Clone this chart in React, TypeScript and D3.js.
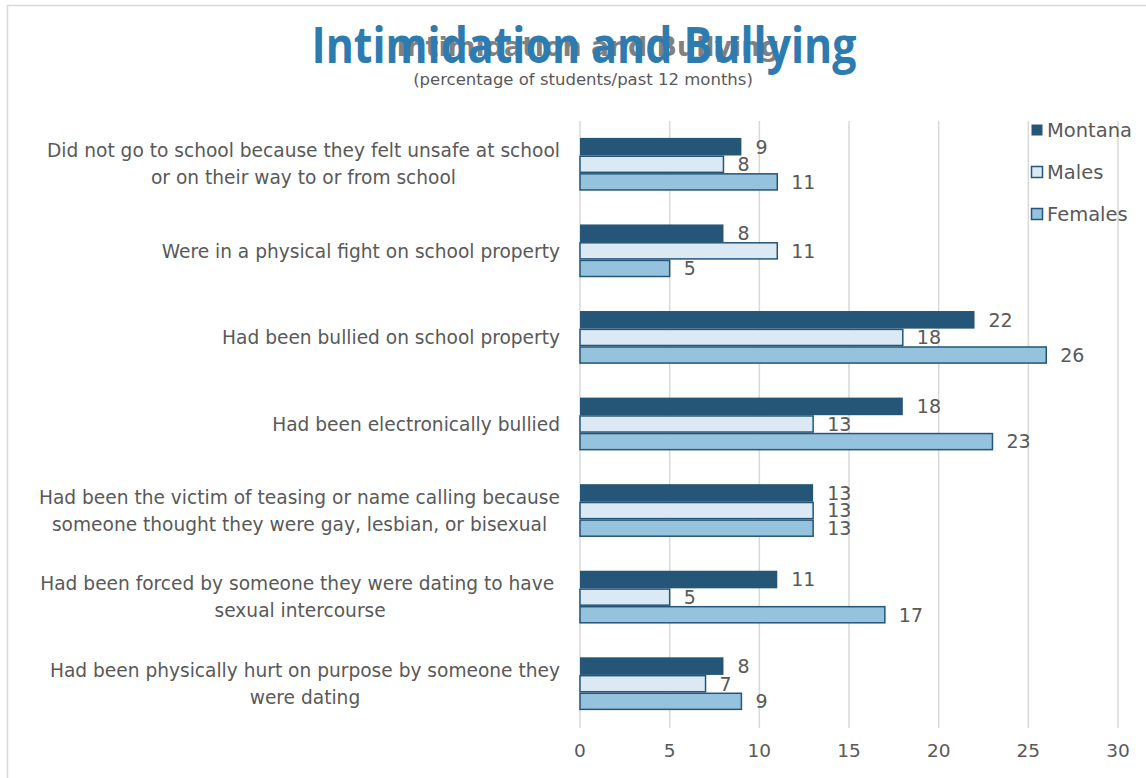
import { useEffect, useRef } from "react";
import * as d3 from "d3";

const categories = [
  "Did not go to school because they felt unsafe at school|or on their way to or from school",
  "Were in a physical fight on school property",
  "Had been bullied on school property",
  "Had been electronically bullied",
  "Had been the victim of teasing or name calling because|someone thought they were gay, lesbian, or bisexual",
  "Had been forced by someone they were dating to have |sexual intercourse",
  "Had been physically hurt on purpose by someone they|were dating",
];
const seriesNames = ["Montana", "Males", "Females"];
const montana = [9, 8, 22, 18, 13, 11, 8];
const males = [8, 11, 18, 13, 13, 5, 7];
const females = [11, 5, 26, 23, 13, 17, 9];
const xTicks = [0, 5, 10, 15, 20, 25, 30];

const FONT = "'Century Gothic', 'DejaVu Sans', sans-serif";
const fills: Record<string, string> = { Montana: "#255577", Males: "#dae9f3", Females: "#95c3de" };
const strokes: Record<string, string> = { Montana: "#255577", Males: "#255577", Females: "#255577" };

export default function App() {
  const svgRef = useRef<SVGSVGElement>(null);

  useEffect(() => {
    if (!svgRef.current) return;
    const svg = d3.select(svgRef.current);
    svg.selectAll("*").remove();

    const values = [montana, males, females];

    const x = d3.scaleLinear().domain([0, 30]).range([580, 1118]);
    const y = d3.scaleBand<string>().domain(categories).range([121, 727]).paddingInner(0.39).paddingOuter(0.195);
    const ys = d3.scaleBand<string>().domain(seriesNames).range([0, y.bandwidth()]);

    // chart border
    svg.append("rect")
      .attr("x", 7.5).attr("y", 5.5).attr("width", 1200).attr("height", 800)
      .attr("fill", "white").attr("stroke", "#d9d9d9").attr("stroke-width", 1.5);

    // gridlines
    svg.append("g").selectAll("line").data(xTicks).join("line")
      .attr("x1", (d) => x(d)).attr("x2", (d) => x(d))
      .attr("y1", 121).attr("y2", 728)
      .attr("stroke", "#d9d9d9").attr("stroke-width", 1.5);

    // x tick labels
    svg.append("g").selectAll("text").data(xTicks).join("text")
      .attr("x", (d) => x(d)).attr("y", 757)
      .attr("text-anchor", "middle")
      .style("font-family", FONT).style("font-size", "18.5px").style("fill", "#595959")
      .text((d) => d);

    // bars
    seriesNames.forEach((s, si) => {
      const g = svg.append("g");
      g.selectAll("rect").data(categories).join("rect")
        .attr("x", x(0))
        .attr("y", (c) => (y(c) ?? 0) + (ys(s) ?? 0) + (si === 0 ? 0 : 0.75))
        .attr("width", (_c, i) => x(values[si][i]) - x(0))
        .attr("height", ys.bandwidth() - (si === 0 ? 0 : 1.5))
        .attr("fill", fills[s])
        .attr("stroke", si === 0 ? "none" : strokes[s])
        .attr("stroke-width", 1.5);
      g.selectAll("text").data(categories).join("text")
        .attr("x", (_c, i) => x(values[si][i]) + 14)
        .attr("y", (c) => (y(c) ?? 0) + (ys(s) ?? 0) + ys.bandwidth() / 2)
        .attr("dy", "0.36em")
        .style("font-family", FONT).style("font-size", "19px").style("fill", "#595959")
        .text((_c, i) => values[si][i]);
    });

    // category labels (multi-line, centered block right-aligned at 560)
    const lineH = 27;
    categories.forEach((c) => {
      const lines = c.split("|");
      const cy = (y(c) ?? 0) + y.bandwidth() / 2;
      const g = svg.append("g");
      const texts = lines.map((ln, li) =>
        g.append("text")
          .attr("y", cy + (li - (lines.length - 1) / 2) * lineH)
          .attr("dy", "0.36em")
          .attr("text-anchor", "middle")
          .style("font-family", FONT).style("font-size", "18.6px").style("fill", "#595959")
          .style("white-space", "pre")
          .text(ln)
      );
      const widths = texts.map((t) => (t.node() as SVGTextElement).getComputedTextLength());
      const maxW = d3.max(widths) ?? 0;
      texts.forEach((t) => t.attr("x", 560 - maxW / 2));
    });

    // legend
    seriesNames.forEach((s, si) => {
      const ly = 130 + si * 42;
      svg.append("rect")
        .attr("x", 1031.5).attr("y", ly - 5.5).attr("width", 11).attr("height", 11)
        .attr("fill", fills[s])
        .attr("stroke", si === 0 ? "none" : strokes[s]).attr("stroke-width", 1.5);
      svg.append("text")
        .attr("x", 1047).attr("y", ly).attr("dy", "0.36em")
        .style("font-family", FONT).style("font-size", "19.5px").style("fill", "#595959")
        .text(s);
    });

    // titles
    svg.append("text")
      .attr("x", 588).attr("y", 56).attr("text-anchor", "middle")
      .attr("textLength", 383).attr("lengthAdjust", "spacingAndGlyphs")
      .style("font-family", FONT).style("font-size", "27px").style("font-weight", "bold")
      .style("fill", "#808080")
      .text("Intimidation and Bullying");
    svg.append("text")
      .attr("x", 584).attr("y", 63).attr("text-anchor", "middle")
      .attr("textLength", 545).attr("lengthAdjust", "spacingAndGlyphs")
      .style("font-family", "'Open Sans', sans-serif").style("font-size", "50px").style("font-weight", "bold")
      .style("fill", "#2e7bb0")
      .text("Intimidation and Bullying");
    svg.append("text")
      .attr("x", 583).attr("y", 85).attr("text-anchor", "middle")
      .style("font-family", FONT).style("font-size", "16.5px").style("fill", "#595959")
      .text("(percentage of students/past 12 months)");
  }, []);

  return (
    <div style={{ position: "absolute", left: 0, top: 0 }}>
      <svg ref={svgRef} width={1146} height={778} style={{ display: "block" }} />
    </div>
  );
}
